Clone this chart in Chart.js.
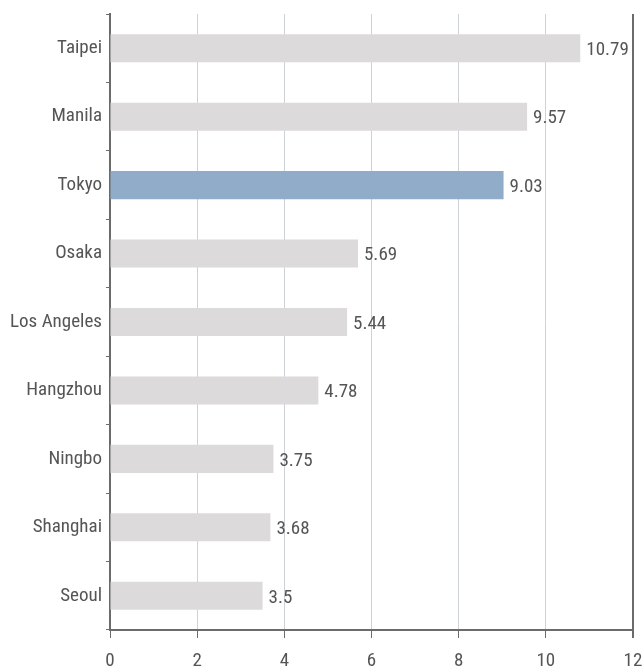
<!DOCTYPE html>
<html>
<head>
<meta charset="utf-8">
<script src="https://cdn.jsdelivr.net/npm/chart.js@4/dist/chart.umd.min.js"></script>
<style>
  html, body { margin: 0; padding: 0; background: #ffffff; }
  #wrap { width: 642px; height: 666px; }
</style>
</head>
<body>
<div id="wrap"><canvas id="chart" width="642" height="666"></canvas></div>
<script>
// Cities and their values, top to bottom
const cities = ['Taipei', 'Manila', 'Tokyo', 'Osaka', 'Los Angeles', 'Hangzhou', 'Ningbo', 'Shanghai', 'Seoul'];
const values = [10.79, 9.57, 9.03, 5.69, 5.44, 4.78, 3.75, 3.68, 3.5];
const highlightCity = 'Tokyo';
const xTicks = [0, 2, 4, 6, 8, 10, 12];

const FONT = "'Roboto Condensed', sans-serif";
const FONT_SIZE = 19;
const TEXT = '#555555';
const AXIS = '#6b6b6b';

// Writes each bar's value just past its end
const valueLabels = {
  id: 'valueLabels',
  afterDatasetsDraw(chart) {
    const ctx = chart.ctx;
    const meta = chart.getDatasetMeta(0);
    ctx.save();
    ctx.font = FONT_SIZE + 'px ' + FONT;
    ctx.fillStyle = TEXT;
    ctx.textAlign = 'left';
    ctx.textBaseline = 'middle';
    meta.data.forEach((bar, i) => {
      ctx.fillText(String(values[i]), bar.x + 6, bar.y + 2);
    });
    ctx.restore();
  }
};

new Chart(document.getElementById('chart'), {
  type: 'bar',
  data: {
    labels: cities,
    datasets: [{
      data: values,
      backgroundColor: cities.map(c => c === highlightCity ? '#91acc8' : '#dcdadb'),
      borderWidth: 0,
      categoryPercentage: 1,
      barPercentage: 0.41
    }]
  },
  options: {
    indexAxis: 'y',
    responsive: false,
    animation: false,
    layout: { padding: { top: 14, right: 9, left: 0, bottom: 0 } },
    plugins: { legend: { display: false }, tooltip: { enabled: false } },
    scales: {
      x: {
        min: 0,
        max: 12,
        afterBuildTicks(scale) { scale.ticks = xTicks.map(v => ({ value: v })); },
        afterFit(scale) {
          scale.height = 36;
          scale.paddingLeft = 0;
          scale.paddingRight = 0;
        },
        grid: {
          color: ctx => (ctx.tick && ctx.tick.value === 12) ? AXIS : '#cdd2d9',
          lineWidth: ctx => (ctx.tick && ctx.tick.value === 12) ? 2 : 1,
          tickColor: AXIS,
          tickLength: 8,
          drawTicks: true
        },
        border: { color: AXIS, width: 2 },
        ticks: {
          color: TEXT,
          font: { family: FONT, size: FONT_SIZE },
          padding: 12,
          maxRotation: 0
        }
      },
      y: {
        afterFit(scale) {
          scale.width = 110;
          scale.paddingTop = 0;
          scale.paddingBottom = 0;
        },
        grid: {
          drawOnChartArea: false,
          drawTicks: true,
          tickLength: 4,
          tickColor: AXIS,
          offset: true
        },
        border: { color: AXIS, width: 2 },
        ticks: {
          color: TEXT,
          font: { family: FONT, size: FONT_SIZE },
          padding: 4
        }
      }
    }
  },
  plugins: [valueLabels]
});
</script>
</body>
</html>
